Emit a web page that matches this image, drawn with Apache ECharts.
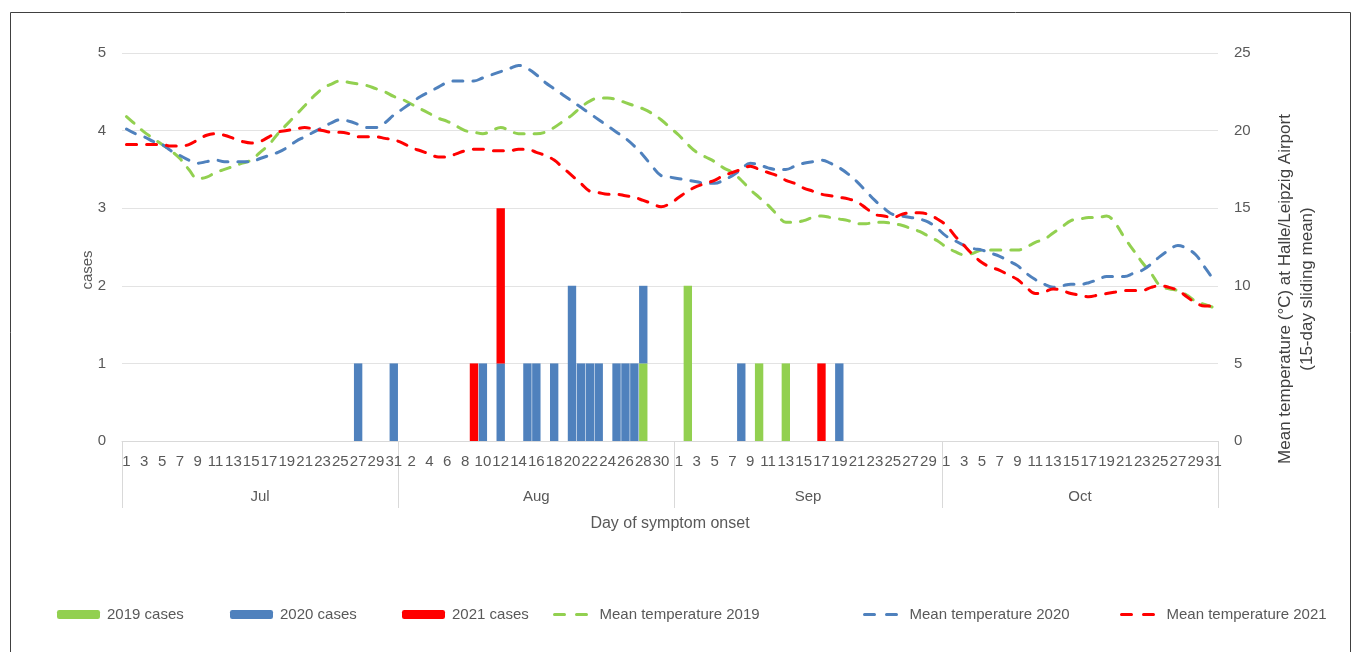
<!DOCTYPE html>
<html>
<head>
<meta charset="utf-8">
<script src="https://cdn.jsdelivr.net/npm/echarts@6/dist/echarts.min.js"></script>
<style>
html,body{margin:0;padding:0;background:#fff;}
#chart{width:1360px;height:652px;}
</style>
</head>
<body>
<div id="chart"></div>
<script>
// ---- data ----
var monthNames = ['Jul', 'Aug', 'Sep', 'Oct'];
var monthDays = [31, 31, 30, 31];

// cases per day of symptom onset (month, day, count)
var cases2019 = [['Aug', 28, 1], ['Sep', 2, 2], ['Sep', 10, 1], ['Sep', 13, 1]];
var cases2020 = [['Jul', 27, 1], ['Jul', 31, 1], ['Aug', 10, 1], ['Aug', 12, 1], ['Aug', 15, 1], ['Aug', 16, 1],
  ['Aug', 18, 1], ['Aug', 20, 2], ['Aug', 21, 1], ['Aug', 22, 1], ['Aug', 23, 1], ['Aug', 25, 1],
  ['Aug', 26, 1], ['Aug', 27, 1], ['Aug', 28, 1], ['Sep', 8, 1], ['Sep', 19, 1]];
var cases2021 = [['Aug', 9, 1], ['Aug', 12, 2], ['Sep', 17, 1]];

// mean temperature (15-day sliding mean), Jul 1 .. Oct 31
var temp2019 = [
  20.9, 20.4, 19.9, 19.5, 19.1, 18.7, 18.2, 17.5, 16.9, 17.0, 17.3, 17.5, 17.7, 17.9, 18.1, 18.6, 19.1, 19.8, 20.4, 21.0, 21.6, 22.2, 22.7, 23.0, 23.2, 23.1, 23.0, 22.9, 22.7, 22.5, 22.2,
  22.0, 21.7, 21.4, 21.1, 20.8, 20.6, 20.3, 20.0, 19.9, 19.8, 20.0, 20.2, 20.0, 19.8, 19.8, 19.8, 19.9, 20.2, 20.6, 21.0, 21.5, 21.9, 22.1, 22.1, 22.0, 21.8, 21.6, 21.4, 21.1, 20.7, 20.2,
  19.7, 19.1, 18.6, 18.3, 18.0, 17.6, 17.3, 16.8, 16.2, 15.7, 15.2, 14.6, 14.1, 14.1, 14.2, 14.4, 14.5, 14.4, 14.3, 14.2, 14.0, 14.0, 14.1, 14.1, 14.0, 13.9, 13.7, 13.5, 13.2, 12.9,
  12.5, 12.2, 12.0, 12.1, 12.3, 12.3, 12.3, 12.3, 12.3, 12.5, 12.8, 13.0, 13.4, 13.8, 14.2, 14.3, 14.4, 14.4, 14.5, 14.0, 13.1, 12.3, 11.5, 10.8, 10.0, 9.8, 9.7, 9.4, 9.0, 8.8, 8.6
];
var temp2020 = [
  20.1, 19.8, 19.6, 19.3, 19.1, 18.7, 18.4, 18.1, 17.9, 18.0, 18.1, 18.0, 18.0, 18.0, 18.0, 18.2, 18.4, 18.6, 18.9, 19.3, 19.6, 19.9, 20.2, 20.5, 20.7, 20.6, 20.4, 20.2, 20.2, 20.5, 21.0,
  21.4, 21.8, 22.2, 22.5, 22.8, 23.1, 23.2, 23.2, 23.2, 23.4, 23.6, 23.8, 24.0, 24.2, 24.0, 23.6, 23.1, 22.7, 22.3, 21.9, 21.5, 21.1, 20.7, 20.3, 19.9, 19.5, 19.0, 18.4, 17.7, 17.1, 17.0,
  16.9, 16.8, 16.7, 16.6, 16.6, 16.8, 17.1, 17.5, 17.9, 17.8, 17.6, 17.5, 17.5, 17.7, 17.9, 18.0, 18.1, 17.9, 17.6, 17.2, 16.7, 16.1, 15.5, 15.0, 14.6, 14.5, 14.4, 14.3, 14.1, 13.7,
  13.2, 12.9, 12.6, 12.4, 12.3, 12.1, 11.9, 11.6, 11.3, 10.8, 10.4, 10.1, 9.9, 10.0, 10.1, 10.1, 10.2, 10.4, 10.6, 10.6, 10.6, 10.8, 11.0, 11.4, 11.9, 12.3, 12.6, 12.4, 12.0, 11.2, 10.4
];
var temp2021 = [
  19.1, 19.1, 19.1, 19.1, 19.1, 19.0, 19.0, 19.1, 19.4, 19.7, 19.8, 19.7, 19.5, 19.3, 19.2, 19.3, 19.6, 19.9, 20.0, 20.1, 20.2, 20.1, 20.0, 19.9, 19.9, 19.8, 19.6, 19.6, 19.6, 19.5, 19.4,
  19.2, 18.9, 18.7, 18.5, 18.3, 18.3, 18.5, 18.7, 18.8, 18.8, 18.7, 18.7, 18.7, 18.8, 18.8, 18.6, 18.4, 18.1, 17.6, 17.1, 16.6, 16.1, 16.0, 15.9, 15.9, 15.8, 15.7, 15.5, 15.3, 15.1, 15.3,
  15.7, 16.1, 16.4, 16.6, 16.8, 17.1, 17.3, 17.5, 17.7, 17.5, 17.3, 17.1, 16.8, 16.6, 16.3, 16.1, 15.9, 15.8, 15.7, 15.6, 15.4, 15.0, 14.6, 14.5, 14.4, 14.6, 14.7, 14.7, 14.6, 14.3,
  13.9, 13.2, 12.6, 12.0, 11.5, 11.2, 11.0, 10.7, 10.4, 9.9, 9.5, 9.6, 9.8, 9.7, 9.5, 9.4, 9.3, 9.4, 9.5, 9.6, 9.7, 9.7, 9.7, 9.9, 10.0, 9.9, 9.7, 9.3, 8.9, 8.7, 8.7
];

var casesTicks = [0, 1, 2, 3, 4, 5];
var tempTicks = [0, 5, 10, 15, 20, 25];

// ---- build category axis ----
var dayLabels = [];
var monthStart = {};
var boundaries = [0];
var monthCenters = [];
var acc = 0;
monthNames.forEach(function (m, i) {
  monthStart[m] = acc;
  for (var d = 1; d <= monthDays[i]; d++) dayLabels.push(String(d));
  monthCenters.push(acc + monthDays[i] / 2);
  acc += monthDays[i];
  boundaries.push(acc);
});
var nDays = dayLabels.length;

function fill(list) {
  var arr = new Array(nDays).fill(0);
  list.forEach(function (c) { arr[monthStart[c[0]] + c[1] - 1] = c[2]; });
  return arr;
}

var C_GREEN = '#92D050', C_BLUE = '#4F81BD', C_RED = '#FF0000';
var TXT = '#595959';
var FONT = 'Liberation Sans';

var chart = echarts.init(document.getElementById('chart'));

function barSeries(name, color, list) {
  return {
    name: name, type: 'bar', stack: 'cases', xAxisIndex: 0, yAxisIndex: 0,
    data: fill(list), barCategoryGap: '6%', itemStyle: { color: color }, emphasis: { disabled: true }
  };
}
function lineSeries(name, color, data) {
  return {
    name: name, type: 'line', xAxisIndex: 0, yAxisIndex: 1, data: data, smooth: 0.4,
    showSymbol: false, symbol: 'none', z: 5,
    lineStyle: { color: color, width: 3, type: [10, 10], cap: 'round' }, itemStyle: { color: color },
    emphasis: { disabled: true }
  };
}

function legendAt(name, left, w, isLine) {
  var l = {
    data: [name], left: left, top: 607, itemWidth: w, itemHeight: 9, itemGap: 0, padding: 0,
    textStyle: { color: TXT, fontSize: 15, fontFamily: FONT, padding: [0, 0, 0, 2] }, selectedMode: false
  };
  if (isLine) {
    l.itemStyle = { opacity: 0 };
    l.lineStyle = { width: 3, type: [10, 12], cap: 'round' };
  }
  return l;
}

var option = {
  animation: false,
  backgroundColor: '#fff',
  textStyle: { fontFamily: FONT },
  grid: { left: 122, right: 142, top: 53, bottom: 211, containLabel: false },
  legend: [
    legendAt('2019 cases', 57, 43),
    legendAt('2020 cases', 230, 43),
    legendAt('2021 cases', 402, 43),
    legendAt('Mean temperature 2019', 553, 38, true),
    legendAt('Mean temperature 2020', 863, 38, true),
    legendAt('Mean temperature 2021', 1120, 38, true)
  ],
  xAxis: [
    {
      type: 'category', data: dayLabels, boundaryGap: true,
      axisLine: { show: true, lineStyle: { color: '#D9D9D9', width: 1 } },
      axisTick: { show: false },
      axisLabel: { interval: 1, color: TXT, fontSize: 15, fontFamily: FONT, margin: 13 },
      name: 'Day of symptom onset', nameLocation: 'middle', nameGap: 75,
      nameTextStyle: { color: TXT, fontSize: 16, fontFamily: FONT },
      splitLine: { show: false }
    },
    {
      type: 'value', min: 0, max: nDays, position: 'bottom',
      axisLine: { show: false },
      axisTick: { show: true, customValues: boundaries, length: 67, inside: false, lineStyle: { color: '#D9D9D9' } },
      axisLabel: {
        customValues: monthCenters, margin: 48, color: TXT, fontSize: 15, fontFamily: FONT,
        formatter: function (v) {
          for (var i = 0; i < monthCenters.length; i++) if (Math.abs(monthCenters[i] - v) < 0.01) return monthNames[i];
          return '';
        }
      },
      splitLine: { show: false }
    }
  ],
  yAxis: [
    {
      type: 'value', min: casesTicks[0], max: casesTicks[casesTicks.length - 1], interval: 1,
      axisLine: { show: false }, axisTick: { show: false },
      axisLabel: { color: TXT, fontSize: 15, fontFamily: FONT, margin: 16 },
      splitLine: { show: true, lineStyle: { color: '#E3E3E3', width: 1 } }
    },
    {
      type: 'value', min: tempTicks[0], max: tempTicks[tempTicks.length - 1], interval: 5, position: 'right',
      axisLine: { show: false }, axisTick: { show: false },
      axisLabel: { color: TXT, fontSize: 15, fontFamily: FONT, margin: 16 },
      splitLine: { show: false }
    }
  ],
  series: [
    barSeries('2019 cases', C_GREEN, cases2019),
    barSeries('2020 cases', C_BLUE, cases2020),
    barSeries('2021 cases', C_RED, cases2021),
    lineSeries('Mean temperature 2019', C_GREEN, temp2019),
    lineSeries('Mean temperature 2020', C_BLUE, temp2020),
    lineSeries('Mean temperature 2021', C_RED, temp2021)
  ],
  graphic: [
    { type: 'rect', shape: { x: 10.5, y: 12.5, width: 1340, height: 660 }, style: { fill: 'none', stroke: '#404040', lineWidth: 1 }, silent: true },
    { type: 'text', x: 88, y: 270, rotation: Math.PI / 2, style: { text: 'cases', fill: TXT, font: '15px "Liberation Sans"', textAlign: 'center', textVerticalAlign: 'middle' }, silent: true },
    { type: 'text', x: 1296, y: 289, rotation: Math.PI / 2, style: { text: 'Mean temperature (°C) at Halle/Leipzig Airport\n(15-day sliding mean)', fill: '#404040', font: '17px "Liberation Sans"', lineHeight: 22, textAlign: 'center', textVerticalAlign: 'middle' }, silent: true }
  ]
};
chart.setOption(option);
</script>
</body>
</html>
